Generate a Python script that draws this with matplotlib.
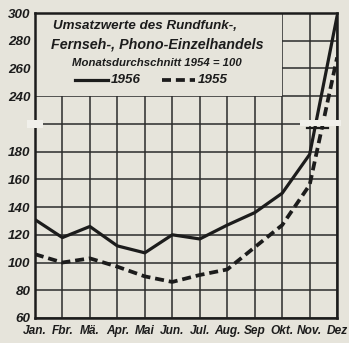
import numpy as np
import matplotlib
matplotlib.use("Agg")
import matplotlib.pyplot as plt
from matplotlib.patches import Rectangle

months = ['Jan.', 'Fbr.', 'Mä.', 'Apr.', 'Mai', 'Jun.', 'Jul.', 'Aug.', 'Sep', 'Okt.', 'Nov.', 'Dez']
umsatz_1956 = [131, 118, 126, 112, 107, 120, 117, 127, 136, 150, 178, 298]
umsatz_1955 = [106, 100, 103, 97, 90, 86, 91, 95, 111, 127, 156, 268]
yticks = [60, 80, 100, 120, 140, 160, 180, 240, 260, 280, 300]

paper = '#e6e4db'
ink = '#1c1c1c'

plt.rcParams['font.family'] = ['Liberation Sans', 'DejaVu Sans']
plt.rcParams['font.weight'] = 'bold'
plt.rcParams['font.style'] = 'italic'

# broken y axis: 180..240 squeezed into two grid steps
def fwd(v):
    v = np.asarray(v, float)
    return np.where(v <= 180, (v - 60) / 20,
                    np.where(v >= 240, (v - 240) / 20 + 8, 6 + (v - 180) / 30))

def inv(d):
    d = np.asarray(d, float)
    return np.where(d <= 6, d * 20 + 60,
                    np.where(d >= 8, (d - 8) * 20 + 240, 180 + (d - 6) * 30))

fig = plt.figure(figsize=(3.49, 3.43), dpi=100, facecolor=paper)
ax = fig.add_axes([0.100, 0.073, 0.866, 0.889], facecolor=paper)
ax.set_yscale('function', functions=(fwd, inv))
ax.set_ylim(60, 300)
ax.set_xlim(0, 11)

x = np.arange(len(months))
ax.set_xticks(x)
ax.set_xticklabels(months, fontsize=8.6)
ax.set_yticks(yticks + [210])
ax.set_yticklabels([str(t) for t in yticks] + [''], fontsize=9.6)
ax.tick_params(axis='y', length=0, pad=3, colors=ink)
ax.tick_params(axis='x', length=0, pad=5, colors=ink)

ax.grid(True, color='#2b2b2b', linewidth=1.1)
ax.set_axisbelow(True)
for s in ax.spines.values():
    s.set_color(ink)
    s.set_linewidth(1.8)

# caption box covers the grid in the upper left
ax.add_patch(Rectangle((0, 240), 9, 60, facecolor=paper, edgecolor='none', zorder=1))

dash = (2.4, 1.3)
ax.plot(x, umsatz_1956, color=ink, lw=2.3, solid_capstyle='round', zorder=3)
ax.plot(x, umsatz_1955, color=ink, lw=2.7, dashes=dash, zorder=3)

# break marks
ax.add_patch(Rectangle((-0.3, 206), 0.6, 8, facecolor='#f1f0eb', edgecolor='none',
                       zorder=4, clip_on=False))
ax.add_patch(Rectangle((9.65, 208), 1.5, 6, facecolor='#f1f0eb', edgecolor='none',
                       zorder=4, clip_on=False))
ax.plot([9.9, 10.25], [206, 206], color=ink, lw=1.6, zorder=5)
ax.plot([10.35, 10.65], [206, 206], color=ink, lw=1.6, zorder=5)

tr = ax.transAxes
ax.text(0.364, 0.957, 'Umsatzwerte des Rundfunk-,', transform=tr, ha='center', va='center',
        fontsize=9.6, color=ink, zorder=6)
ax.text(0.404, 0.896, 'Fernseh-, Phono-Einzelhandels', transform=tr, ha='center', va='center',
        fontsize=10.3, color=ink, zorder=6)
ax.text(0.404, 0.836, 'Monatsdurchschnitt 1954 = 100', transform=tr, ha='center', va='center',
        fontsize=8.2, color=ink, zorder=6)
ax.plot([0.132, 0.242], [0.780, 0.780], transform=tr, color=ink, lw=2.3, zorder=6)
ax.text(0.252, 0.780, '1956', transform=tr, ha='left', va='center', fontsize=9.6, color=ink, zorder=6)
ax.plot([0.42, 0.53], [0.780, 0.780], transform=tr, color=ink, lw=2.7, dashes=dash, zorder=6)
ax.text(0.54, 0.780, '1955', transform=tr, ha='left', va='center', fontsize=9.6, color=ink, zorder=6)

fig.savefig('out.png', dpi=100, facecolor=paper)
